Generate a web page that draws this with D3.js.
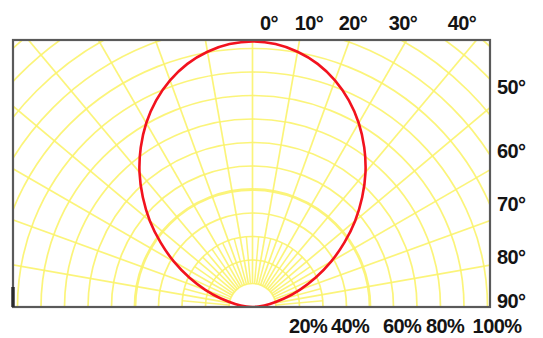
<!DOCTYPE html>
<html><head><meta charset="utf-8">
<script src="https://cdn.jsdelivr.net/npm/d3@7"></script>
<style>
html,body{margin:0;padding:0;background:#fff;}
svg{display:block;}
text{font-family:"Liberation Sans",Arial,sans-serif;font-weight:bold;font-size:20px;letter-spacing:-0.6px;fill:#141414;}
</style></head><body>
<svg id="chart" width="543" height="338"></svg>
<script>
// Relative luminous intensity (%) against angle from the beam axis (degrees)
const angles = [-90,-85,-80,-75,-70,-65,-60,-55,-50,-45,-40,-35,-30,-25,-20,-15,-10,-5,0,
                5,10,15,20,25,30,35,40,45,50,55,60,65,70,75,80,85,90];
const intensity = [0,2.6,7.5,13.9,21.4,29.7,38.6,47.7,57.0,66.0,74.8,82.9,90.4,97.0,102.6,107.1,110.3,112.3,113,
                   112.3,110.3,107.1,102.6,97.0,90.4,82.9,74.8,66.0,57.0,47.7,38.6,29.7,21.4,13.9,7.5,2.6,0];

// Polar grid: rings in %, spokes in degrees
const ringLevels = [10,20,30,40,50,60,70,80,90,100,110,120,130,140,150];
const boldRing = 50;
const spokeAngles = [-90,-80,-70,-60,-50,-40,-30,-20,-10,0,10,20,30,40,50,60,70,80,90];
const minorSpokeAngles = [-85,-75,-65,-55,-45,-35,-25,-15,-5,5,15,25,35,45,55,65,75,85];

// Axis labels
const topLabels = ["0°","10°","20°","30°","40°"];
const sideLabels = ["50°","60°","70°","80°","90°"];
const pctValues = [20,40,60,80,100];

const svg = d3.select("#chart");
const frame = {x0: 13, y0: 40, x1: 490, y1: 307};
const cx = 252.5, cy = 307;
const r = d3.scaleLinear().domain([0, 100]).range([0, 235]);
const rad = d => d * Math.PI / 180;

svg.append("defs").append("clipPath").attr("id", "plotClip")
  .append("rect")
  .attr("x", frame.x0).attr("y", frame.y0)
  .attr("width", frame.x1 - frame.x0).attr("height", frame.y1 - frame.y0);

const plot = svg.append("g").attr("clip-path", "url(#plotClip)");
const g = plot.append("g").attr("transform", `translate(${cx},${cy})`);

const gridColor = "#fbf36c";

// rings
g.selectAll("circle.ring").data(ringLevels).join("circle")
  .attr("class", "ring")
  .attr("r", d => r(d))
  .attr("fill", "none")
  .attr("stroke", gridColor)
  .attr("stroke-opacity", 0.9)
  .attr("stroke-width", d => d === boldRing ? 2.8 : 1.7);

// spokes every 10°
const spokeLine = (a, r0, r1) => {
  const s = Math.sin(rad(a)), c = Math.cos(rad(a));
  return `M${r0 * s},${-r0 * c}L${r1 * s},${-r1 * c}`;
};
g.selectAll("path.spoke").data(spokeAngles).join("path")
  .attr("class", "spoke")
  .attr("d", a => spokeLine(a, r(10), r(170)))
  .attr("stroke", gridColor).attr("stroke-opacity", 0.9)
  .attr("stroke-width", 1.7).attr("fill", "none");

// intermediate spokes near the centre
g.selectAll("path.minor").data(minorSpokeAngles).join("path")
  .attr("class", "minor")
  .attr("d", a => spokeLine(a, r(10), r(30)))
  .attr("stroke", gridColor).attr("stroke-opacity", 0.9)
  .attr("stroke-width", 1.5).attr("fill", "none");

// intensity curve
const pts = angles.map((a, i) => ({a, v: intensity[i]}));
const curve = d3.lineRadial()
  .angle(d => rad(d.a))
  .radius(d => r(d.v))
  .curve(d3.curveCatmullRom.alpha(0.5));
g.append("path")
  .datum(pts)
  .attr("d", curve)
  .attr("fill", "none")
  .attr("stroke", "#f2121e")
  .attr("stroke-width", 2.6);

// frame
svg.append("rect")
  .attr("x", frame.x0).attr("y", frame.y0)
  .attr("width", frame.x1 - frame.x0).attr("height", frame.y1 - frame.y0)
  .attr("fill", "none").attr("stroke", "#5a5a5a").attr("stroke-width", 2.2);
svg.append("path")
  .attr("d", `M${frame.x0},${frame.y1 - 20}L${frame.x0},${frame.y1}`)
  .attr("stroke", "#2a2a2a").attr("stroke-width", 3.4);

// angle labels along the top
const topX = [269, 309, 353, 403, 462];
svg.selectAll("text.top").data(topLabels).join("text")
  .attr("class", "top")
  .attr("x", (d, i) => topX[i]).attr("y", 30)
  .attr("text-anchor", "middle")
  .text(d => d);

// angle labels down the right side
const sideY = [94, 158, 211, 264, 308];
svg.selectAll("text.side").data(sideLabels).join("text")
  .attr("class", "side")
  .attr("x", 497).attr("y", (d, i) => sideY[i])
  .text(d => d);

// intensity labels along the bottom
const pctShift = [8.5, 3.5, 8.5, 4.5, 9.5];
svg.selectAll("text.pct").data(pctValues).join("text")
  .attr("class", "pct")
  .attr("x", (d, i) => cx + r(d) + pctShift[i]).attr("y", 333)
  .attr("text-anchor", "middle")
  .text(d => d + "%");
</script>
</body></html>
